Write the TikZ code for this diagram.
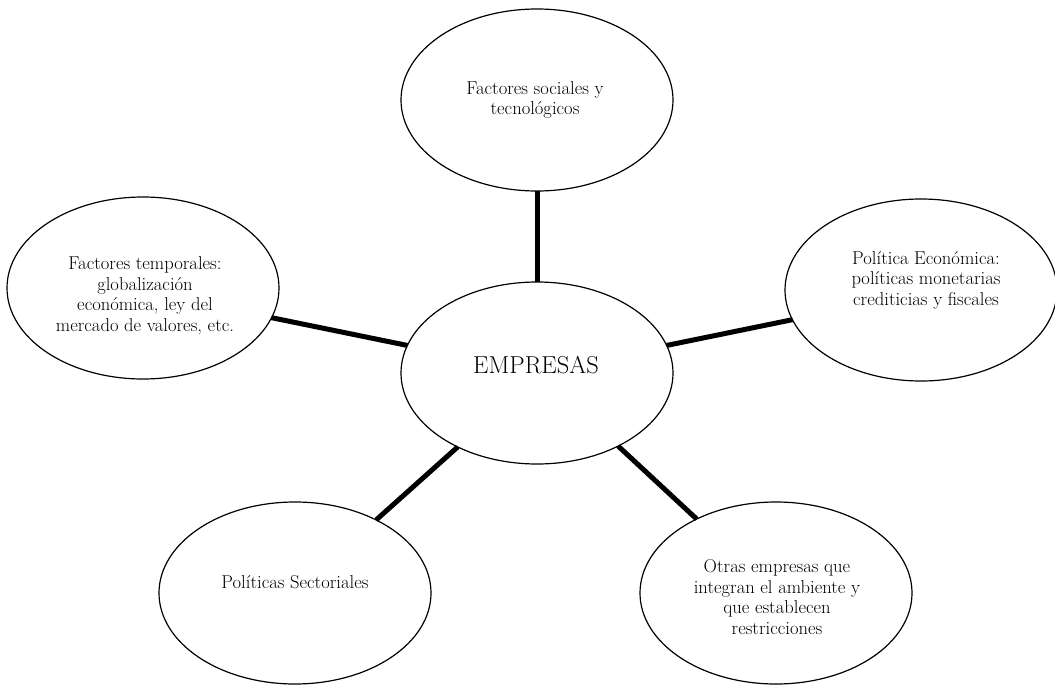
\documentclass[tikz,border=0pt]{standalone}
\usepackage{fontspec}
\usetikzlibrary{shapes.geometric}
\begin{document}
\begin{tikzpicture}[x=1pt,y=-1pt,
  bub/.style={draw, ellipse, line width=1.2pt, minimum width=272pt, minimum height=182pt, inner sep=0pt, outer sep=0pt},
  lbl/.style={align=center, font=\fontsize{18.6}{20.5}\selectfont, inner sep=0pt},
  link/.style={line width=5pt}]
\useasboundingbox (0,0) rectangle (1055,685);
% ellipses
\node[bub] (T)  at (537,100) {};
\node[bub] (L)  at (143,288) {};
\node[bub] (R)  at (921,290) {};
\node[bub] (C)  at (537,373) {};
\node[bub] (BL) at (295,593) {};
\node[bub] (BR) at (776,593) {};
% texts
\node[lbl] (tT)  at (535,100) {Factores sociales y\\tecnológicos};
\node[lbl] (tL)  at (145,296) {Factores temporales:\\globalización\\económica, ley del\\mercado de valores, etc.};
\node[lbl] (tR)  at (926,280) {Política Económica:\\políticas monetarias\\crediticias y fiscales};
\node[lbl, font=\fontsize{24.5}{28}\selectfont] (tC) at (536,365) {EMPRESAS};
\node[lbl] (tBL) at (295,582) {Políticas Sectoriales};
\node[lbl] (tBR) at (777,597) {Otras empresas que\\integran el ambiente y\\que establecen\\restricciones};
% connectors
\draw[link] (T.-90) -- (C.90);
\draw[link] (L.-13.4) -- (C.168);
\draw[link] (C.12.5) -- (R.-167.5);
\draw[link] (C.-137.2) -- (BL.42);
\draw[link] (C.-42.4) -- (BR.137.3);
\end{tikzpicture}
\end{document}
